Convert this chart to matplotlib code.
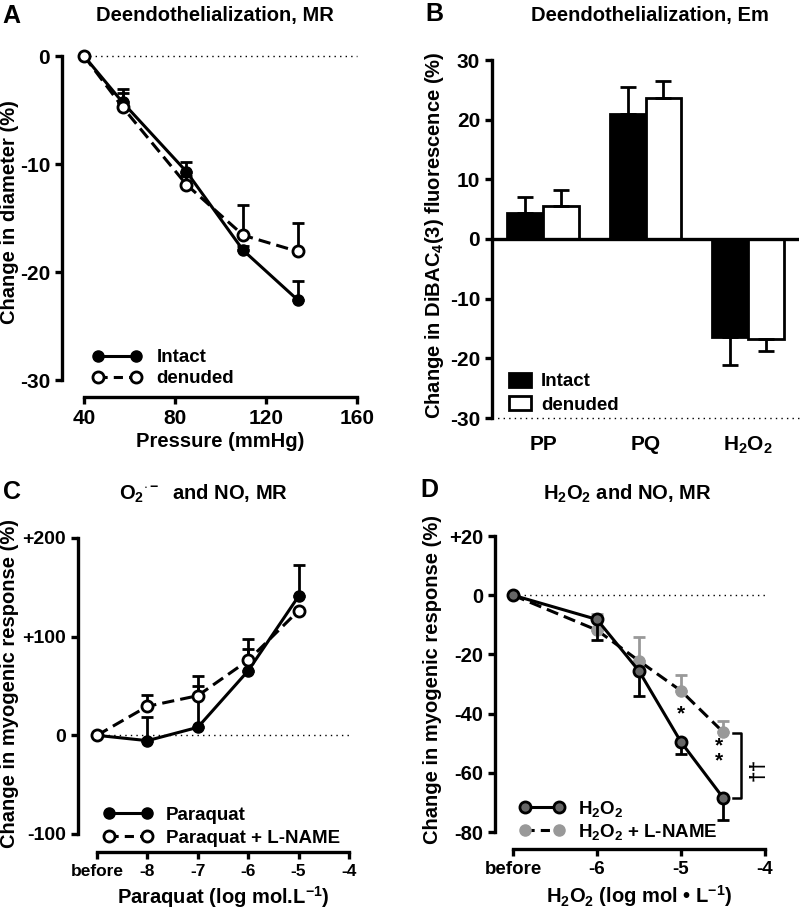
import numpy as np
import matplotlib
matplotlib.use("Agg")
import matplotlib.pyplot as plt
from matplotlib.lines import Line2D
from matplotlib.patches import Patch

plt.rcParams['font.family'] = ['Liberation Sans', 'DejaVu Sans']
plt.rcParams['font.weight'] = 'bold'
plt.rcParams['axes.unicode_minus'] = False
plt.rcParams['mathtext.fontset'] = 'custom'
plt.rcParams['mathtext.rm'] = 'Liberation Sans:bold'
plt.rcParams['mathtext.it'] = 'Liberation Sans:bold'
plt.rcParams['mathtext.bf'] = 'Liberation Sans:bold'
plt.rcParams['mathtext.sf'] = 'Liberation Sans:bold'

# A: deendothelialization, myogenic response
pressure = [40, 57, 85, 110, 134]
intact_d = [0, -4.3, -10.7, -18.0, -22.6]
intact_d_sem = [0, 1.2, 0.9, 0.4, 1.8]
denuded_d = [0, -4.75, -11.9, -16.6, -18.1]
denuded_d_sem = [0, 1.3, 0.8, 2.8, 2.6]

# B: deendothelialization, Em
groups = ['PP', 'PQ', 'H$_2$O$_2$']
intact_f = [4.3, 20.9, -16.4]
intact_f_sem = [2.8, 4.6, 4.7]
denuded_f = [5.5, 23.6, -16.8]
denuded_f_sem = [2.7, 2.8, 1.9]

# C: paraquat
pq_x = [-9, -8, -7, -6, -5]
pq = [0, -5.4, 8.1, 65.5, 141]
pq_sem = [0, 23.5, 52, 22.5, 32]
pqln = [0, 29.4, 40.2, 76, 126.4]
pqln_sem = [0, 11.5, 10, 22, 0]

# D: H2O2
h_x = [-7, -6, -5.5, -5, -4.5]
h2o2 = [0, -8.2, -25.6, -49.6, -68.4]
h2o2_sem = [0, 7.0, 8.5, 3.9, 7.6]
hln = [0, -11.8, -22.2, -32.3, -46.2]
hln_sem = [0, 5.6, 8.1, 5.3, 3.7]

W, H = 800, 909
fig = plt.figure(figsize=(8, 9.09), dpi=100)


def px_axes(left, top, right, bottom):
    return fig.add_axes([left / W, 1 - bottom / H, (right - left) / W, (bottom - top) / H])


def style(ax, lo, bo, tsize=14):
    for s in ['top', 'right']:
        ax.spines[s].set_visible(False)
    ax.spines['left'].set_linewidth(2.4)
    ax.spines['bottom'].set_linewidth(2.4)
    ax.spines['left'].set_position(('outward', lo * 0.72))
    ax.spines['bottom'].set_position(('outward', bo * 0.72))
    ax.tick_params(width=2.4, length=5, labelsize=tsize)
    for t in ax.get_xticklabels() + ax.get_yticklabels():
        t.set_fontweight('bold')


lw = 2.2
ms = 8
lab = 14.5

# ---------- A ----------
ax = px_axes(84, 56, 357, 380)
ax.set_xlim(40, 160)
ax.set_ylim(-30, 0)
ax.plot([40, 160], [0, 0], ls=(0, (1, 3)), color='k', lw=1, clip_on=False)
ax.errorbar(pressure, intact_d, yerr=[np.zeros(5), intact_d_sem], fmt='-o', color='k',
            lw=lw, ms=ms, mfc='k', mec='k', capsize=4, elinewidth=2, capthick=2,
            clip_on=False, zorder=3)
ax.errorbar(pressure, denuded_d, yerr=[np.zeros(5), denuded_d_sem], fmt='o', ls=(0, (4, 2)),
            color='k', lw=lw, ms=ms, mfc='white', mec='k', mew=2, capsize=4, elinewidth=2,
            capthick=2, clip_on=False, zorder=4)
ax.set_xticks([40, 80, 120, 160])
ax.set_yticks([0, -10, -20, -30])
style(ax, 22, 17, 15)
ax.legend(handles=[Line2D([], [], color='k', lw=lw, marker='o', ms=ms, mfc='k'),
                   Line2D([], [], color='k', lw=lw, ls=(0, (3, 2)), marker='o', ms=ms, mfc='white', mew=2)],
          labels=['Intact', 'denuded'], numpoints=2, frameon=False, loc='lower left',
          bbox_to_anchor=(-0.03, -0.075), handlelength=2.6, handletextpad=0.8,
          labelspacing=0.22, prop={'weight': 'bold', 'size': 13.5})

# ---------- B ----------
ax = px_axes(492, 60, 799, 418)
xb = np.arange(len(groups))
bw = 0.35
ax.bar(xb - bw / 2, intact_f, bw, color='k', edgecolor='k', lw=2,
       yerr=[[0 if v > 0 else e for v, e in zip(intact_f, intact_f_sem)],
             [e if v > 0 else 0 for v, e in zip(intact_f, intact_f_sem)]],
       error_kw=dict(elinewidth=2, capsize=6, capthick=2, ecolor='k'), label='Intact')
ax.bar(xb + bw / 2, denuded_f, bw, color='white', edgecolor='k', lw=2,
       yerr=[[0 if v > 0 else e for v, e in zip(denuded_f, denuded_f_sem)],
             [e if v > 0 else 0 for v, e in zip(denuded_f, denuded_f_sem)]],
       error_kw=dict(elinewidth=2, capsize=6, capthick=2, ecolor='k'), label='denuded')
ax.set_xlim(-0.5, 2.5)
ax.set_ylim(-30, 30)
ax.axhline(0, color='k', lw=2.4)
ax.plot([-0.5, 2.5], [-30, -30], ls=(0, (1, 3)), color='k', lw=1, clip_on=False)
for s in ['top', 'right', 'bottom']:
    ax.spines[s].set_visible(False)
ax.spines['left'].set_linewidth(2.4)
ax.tick_params(axis='y', width=2.4, length=5, labelsize=15)
ax.tick_params(axis='x', length=0, labelsize=15, pad=12)
ax.set_yticks([30, 20, 10, 0, -10, -20, -30])
ax.set_xticks(xb)
ax.set_xticklabels(groups, fontweight='bold')
for t in ax.get_yticklabels():
    t.set_fontweight('bold')
ax.legend(handles=[Patch(facecolor='k', edgecolor='k', lw=2), Patch(facecolor='white', edgecolor='k', lw=2)],
          labels=['Intact', 'denuded'], frameon=False, loc='lower left',
          bbox_to_anchor=(0.0, -0.035), handlelength=1.2, handleheight=0.8, handletextpad=0.5,
          labelspacing=0.3, prop={'weight': 'bold', 'size': 13.5})

# ---------- C ----------
ax = px_axes(97, 538, 349, 834)
ax.set_xlim(-9, -4)
ax.set_ylim(-100, 200)
ax.plot([-9, -4], [0, 0], ls=(0, (1, 3)), color='k', lw=1, clip_on=False)
ax.errorbar(pq_x, pq, yerr=[np.zeros(5), pq_sem], fmt='-o', color='k', lw=lw, ms=ms,
            mfc='k', capsize=4, elinewidth=2, capthick=2, clip_on=False, zorder=3)
ax.errorbar(pq_x, pqln, yerr=[np.zeros(5), pqln_sem], fmt='o', ls=(0, (4, 2)), color='k',
            lw=lw, ms=ms, mfc='white', mew=2, capsize=4, elinewidth=2, capthick=2,
            clip_on=False, zorder=4)
ax.set_xticks([-9, -8, -7, -6, -5, -4])
ax.set_xticklabels(['before', '-8', '-7', '-6', '-5', '-4'])
ax.set_yticks([200, 100, 0, -100])
ax.set_yticklabels(['+200', '+100', '0', '-100'])
style(ax, 19, 18, 14)
for t in ax.get_xticklabels():
    t.set_fontsize(12.5)
ax.legend(handles=[Line2D([], [], color='k', lw=lw, marker='o', ms=ms, mfc='k'),
                   Line2D([], [], color='k', lw=lw, ls=(0, (3, 2)), marker='o', ms=ms, mfc='white', mew=2)],
          labels=['Paraquat', 'Paraquat + L-NAME'], numpoints=2, frameon=False, loc='lower left',
          bbox_to_anchor=(-0.04, -0.1), handlelength=2.6, handletextpad=0.7,
          labelspacing=0.3, prop={'weight': 'bold', 'size': 13.5})

# ---------- D ----------
ax = px_axes(513, 536, 765, 832)
ax.set_xlim(-7, -4)
ax.set_ylim(-80, 20)
ax.plot([-7, -4], [0, 0], ls=(0, (1, 3)), color='k', lw=1, clip_on=False)
grey = '#999999'
ax.errorbar(h_x, hln, yerr=[np.zeros(5), hln_sem], fmt='o', ls=(0, (4, 2)), color='k',
            ecolor=grey, lw=lw, ms=ms, mfc=grey, mec=grey, capsize=4, elinewidth=2,
            capthick=2, clip_on=False, zorder=3)
ax.errorbar(h_x, h2o2, yerr=[h2o2_sem, np.zeros(5)], fmt='-o', color='k', lw=lw, ms=ms,
            mfc='#666666', mec='k', mew=2, capsize=4, elinewidth=2, capthick=2,
            clip_on=False, zorder=4)
ax.text(-5.0, -40, '*', ha='center', va='center', fontsize=15, fontweight='bold')
ax.text(-4.545, -53.5, '*\n*', ha='center', va='center', fontsize=15, fontweight='bold',
        linespacing=0.7)
ax.plot([-4.38, -4.28, -4.28, -4.38], [-46.5, -46.5, -68.4, -68.4], color='k', lw=1.8,
        clip_on=False)
ax.text(-4.08, -59, '\u2020\u2020', ha='center', va='center', rotation=90, fontsize=15,
        fontweight='bold')
ax.set_xticks([-7, -6, -5, -4])
ax.set_xticklabels(['before', '-6', '-5', '-4'])
ax.set_yticks([20, 0, -20, -40, -60, -80])
ax.set_yticklabels(['+20', '0', '-20', '-40', '-60', '-80'])
style(ax, 18, 17, 14.5)
for t in ax.get_xticklabels():
    t.set_fontsize(13.5)
ax.legend(handles=[Line2D([], [], color='k', lw=lw, marker='o', ms=ms, mfc='#666666', mec='k', mew=2),
                   Line2D([], [], color='k', lw=lw, ls=(0, (3, 2)), marker='o', ms=ms, mfc=grey, mec=grey)],
          labels=['H$_2$O$_2$', 'H$_2$O$_2$ + L-NAME'], numpoints=2, frameon=False, loc='lower left',
          bbox_to_anchor=(-0.04, -0.09), handlelength=2.4, handletextpad=0.7,
          labelspacing=0.15, prop={'weight': 'bold', 'size': 13.5})

# ---------- figure texts ----------
def ftext(x, y, s, **kw):
    fig.text(x / W, 1 - y / H, s, fontweight='bold', **kw)

ftext(2, 16, 'A', fontsize=18, ha='left', va='center')
ftext(425, 14, 'B', fontsize=18, ha='left', va='center')
ftext(3, 492, 'C', fontsize=18, ha='left', va='center')
ftext(420, 490, 'D', fontsize=18, ha='left', va='center')
ftext(215, 16, 'Deendothelialization, MR', fontsize=lab, ha='center', va='center')
ftext(650, 15, 'Deendothelialization, Em', fontsize=lab, ha='center', va='center')
ftext(203, 494, r'O$_2{}^{\cdot -}$  and NO, MR', fontsize=lab, ha='center', va='center')
ftext(627, 494, 'H$_2$O$_2$ and NO, MR', fontsize=lab, ha='center', va='center')

ftext(10, 212, 'Change in diameter (%)', fontsize=lab, rotation=90, ha='center', va='center')
ftext(434, 235, 'Change in DiBAC$_4$(3) fluorescence (%)', fontsize=lab, rotation=90,
      ha='center', va='center')
ftext(10, 684, 'Change in myogenic response (%)', fontsize=lab, rotation=90, ha='center', va='center')
ftext(432, 680, 'Change in myogenic response (%)', fontsize=lab, rotation=90, ha='center', va='center')

ftext(220, 442, 'Pressure (mmHg)', fontsize=lab, ha='center', va='center')
ftext(223, 897, 'Paraquat (log mol.L$^{-1}$)', fontsize=lab, ha='center', va='center')
ftext(639, 896, 'H$_2$O$_2$ (log mol \u2022 L$^{-1}$)', fontsize=lab, ha='center', va='center')

fig.savefig('out.png', dpi=100, facecolor='white')
